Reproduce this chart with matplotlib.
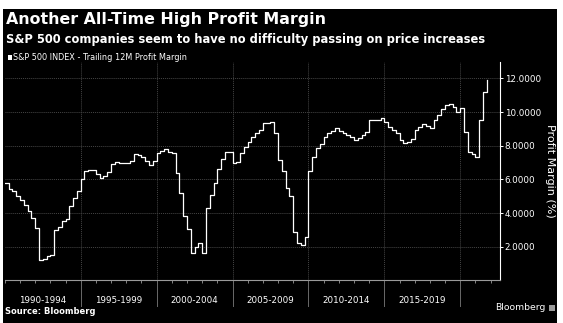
import numpy as np
import matplotlib
matplotlib.use("Agg")
import matplotlib.pyplot as plt
from matplotlib.patches import Rectangle

# S&P 500 trailing 12M profit margin (%), quarterly, 1990Q1 .. 2021Q4
start_year = 1990
margin = [
    5.77, 5.45, 5.30, 5.00,   # 1990
    4.75, 4.45, 4.15, 3.70,   # 1991
    3.09, 1.20, 1.30, 1.45,   # 1992
    1.52, 3.00, 3.20, 3.50,   # 1993
    3.65, 4.40, 4.90, 5.30,   # 1994
    6.00, 6.50, 6.56, 6.56,   # 1995
    6.30, 6.10, 6.20, 6.45,   # 1996
    6.90, 7.05, 6.98, 6.95,   # 1997
    6.97, 7.10, 7.50, 7.45,   # 1998
    7.35, 7.10, 6.85, 7.10,   # 1999
    7.55, 7.70, 7.78, 7.64,   # 2000
    7.55, 6.40, 5.20, 3.80,   # 2001
    3.05, 1.65, 2.00, 2.24,   # 2002
    1.61, 4.30, 5.10, 5.80,   # 2003
    6.60, 7.20, 7.64, 7.64,   # 2004
    6.95, 7.05, 7.55, 7.94,   # 2005
    8.24, 8.50, 8.73, 8.93,   # 2006
    9.33, 9.35, 9.43, 8.73,   # 2007
    7.15, 6.50, 5.50, 5.00,   # 2008
    2.90, 2.20, 2.10, 2.60,   # 2009
    6.50, 7.35, 7.84, 8.10,   # 2010
    8.50, 8.73, 8.85, 9.03,   # 2011
    8.85, 8.75, 8.63, 8.53,   # 2012
    8.34, 8.44, 8.63, 8.83,   # 2013
    9.53, 9.53, 9.53, 9.65,   # 2014
    9.40, 9.13, 8.93, 8.73,   # 2015
    8.34, 8.18, 8.24, 8.40,   # 2016
    8.93, 9.13, 9.29, 9.15,   # 2017
    9.03, 9.50, 9.82, 10.15,  # 2018
    10.42, 10.45, 10.30, 10.00,  # 2019
    10.22, 8.80, 7.60, 7.50,  # 2020
    7.35, 9.50, 11.20, 11.90,  # 2021
]
period_edges = [1990, 1995, 2000, 2005, 2010, 2015, 2020]
period_labels = ["1990-1994", "1995-1999", "2000-2004", "2005-2009",
                 "2010-2014", "2015-2019"]
y_ticks = [2, 4, 6, 8, 10, 12]

title = "Another All-Time High Profit Margin"
subtitle = "S&P 500 companies seem to have no difficulty passing on price increases"
legend_text = "S&P 500 INDEX - Trailing 12M Profit Margin"

W, H = 563, 323
fig = plt.figure(figsize=(W / 100, H / 100), dpi=100)
fig.patch.set_facecolor("white")

# black panel with a thin white border on top and sides
fig.patches.append(Rectangle((3 / W, 0), 554 / W, 1 - 8.5 / H,
                             transform=fig.transFigure, facecolor="black",
                             edgecolor="none", zorder=-1))

def fy(py):
    return 1 - py / H

fig.text(6 / W, fy(19.5), title, color="white", fontsize=11.4,
         fontweight="bold", va="center", ha="left")
fig.text(6 / W, fy(39), subtitle, color="white", fontsize=8.3,
         fontweight="bold", va="center", ha="left")
fig.patches.append(Rectangle((8 / W, fy(60)), 4 / W, 5 / H,
                             transform=fig.transFigure, facecolor="white",
                             edgecolor="none"))
fig.text(13 / W, fy(57.5), legend_text, color="white", fontsize=5.9,
         va="center", ha="left")

ax = fig.add_axes([4.8 / W, fy(280.4), (500 - 4.8) / W, (280.4 - 61.5) / H])
ax.set_zorder(2)
ax.set_facecolor("black")

x = start_year + np.arange(len(margin)) / 4.0
ax.plot(x, margin, drawstyle="steps-post", color="white", lw=0.9)

ax.set_xlim(1990, 2022.62)
ax.set_ylim(0, 13)

for s in ["top", "left"]:
    ax.spines[s].set_visible(False)
ax.spines["bottom"].set_color("#9a9a9a")
ax.spines["bottom"].set_linewidth(0.8)
ax.spines["right"].set_color("white")
ax.spines["right"].set_linewidth(0.8)

# right-hand value axis
ax.yaxis.tick_right()
ax.yaxis.set_label_position("right")
ax.set_yticks(y_ticks)
ax.set_yticklabels([f"{v:.4f}" for v in y_ticks])
ax.tick_params(axis="y", colors="white", labelsize=6.3, length=2.5, width=0.7,
               pad=1)
ax.set_ylabel("Profit Margin (%)", color="white", fontsize=8, rotation=-90,
              labelpad=10)

# period labels centred between separators, yearly minor ticks
mids = [(a + b) / 2 for a, b in zip(period_edges[:-1], period_edges[1:])]
ax.set_xticks(mids)
ax.set_xticklabels(period_labels)
ax.set_xticks(np.arange(1990, 2023), minor=True)
ax.tick_params(axis="x", which="major", length=0, colors="white",
               labelsize=6.3, pad=11)
ax.tick_params(axis="x", which="minor", length=2.2, width=0.6,
               color="#9a9a9a")

# dotted grid
for v in y_ticks:
    ax.axhline(v, color="#454545", lw=0.7, ls=(0, (1, 1)), zorder=0)
trans = ax.get_xaxis_transform()
for e in period_edges[1:]:
    ax.axvline(e, color="#454545", lw=0.7, ls=(0, (1, 1)), zorder=0)
    ax.plot([e, e], [0, -26 / 218.9], transform=trans, color="#6a6a6a",
            lw=0.7, clip_on=False)

fig.text(5 / W, fy(311), "Source: Bloomberg", color="white", fontsize=6,
         fontweight="bold", va="center", ha="left")
fig.text(546 / W, fy(307.5), "Bloomberg", color="white", fontsize=6.7,
         va="center", ha="right")
fig.patches.append(Rectangle((548.5 / W, fy(310.5)), 6 / W, 6 / H,
                             transform=fig.transFigure, facecolor="#9a9a9a",
                             edgecolor="none"))

fig.savefig("out.png", dpi=100, facecolor=fig.get_facecolor())
